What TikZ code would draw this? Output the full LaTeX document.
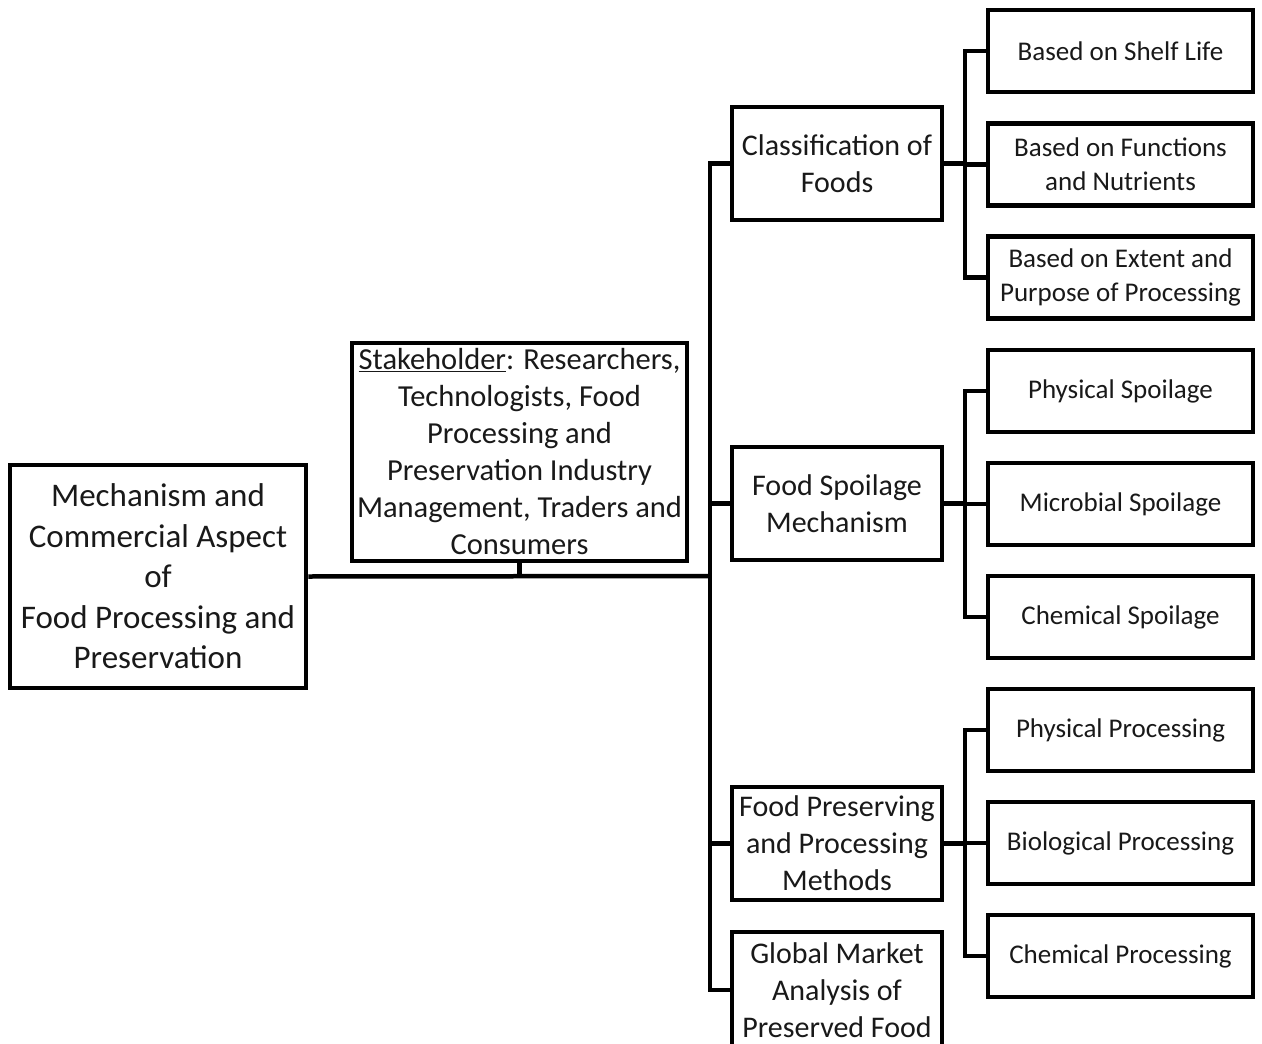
\documentclass[tikz,border=0pt]{standalone}
\usepackage{fontspec}
\setmainfont{Carlito}
\begin{document}
\begin{tikzpicture}[x=1pt,y=-1pt,
  box/.style={draw,line width=4.5pt,fill=white,align=center,inner sep=0pt,text=black!90},
  rootbox/.style={box,minimum width=296pt,minimum height=223pt,font=\fontsize{33}{40.5}\selectfont},
  stakebox/.style={box,minimum width=335pt,minimum height=218pt,font=\fontsize{30.5}{37}\selectfont},
  midbox/.style={box,minimum width=210pt,minimum height=113pt,font=\fontsize{30}{37}\selectfont},
  leafbox/.style={box,minimum width=265pt,minimum height=82pt,font=\fontsize{27}{34}\selectfont},
  link/.style={line width=4.5pt,line join=miter}]
\useasboundingbox (0,0) rectangle (1262,1044);
\clip (0,0) rectangle (1262,1044);
\fill[white] (0,0) rectangle (1262,1044);
\coordinate (tr) at (710,576);
\coordinate (sb) at (965,0);

\node[rootbox] (root) at (158,576.5) {Mechanism and\\Commercial Aspect\\of\\Food Processing and\\Preservation};
\node[stakebox] (stake) at (519.5,452) {\underline{Stakeholder}: Researchers,\\Technologists, Food\\Processing and\\Preservation Industry\\Management, Traders and\\Consumers};

\node[midbox] (cls) at (837,163.5) {Classification of\\Foods};
\node[midbox] (spo) at (837,503.5) {Food Spoilage\\Mechanism};
\node[midbox] (pre) at (837,843.5) {Food Preserving\\and Processing\\Methods};
\node[midbox,minimum height=116pt] (gm) at (837,990) {Global Market\\Analysis of\\Preserved Food};

\node[leafbox] (a1) at (1120.5,51) {Based on Shelf Life};
\node[leafbox] (a2) at (1120.5,164.5) {Based on Functions\\and Nutrients};
\node[leafbox] (a3) at (1120.5,277.5) {Based on Extent and\\Purpose of Processing};
\node[leafbox] (b1) at (1120.5,391) {Physical Spoilage};
\node[leafbox] (b2) at (1120.5,504) {Microbial Spoilage};
\node[leafbox] (b3) at (1120.5,617) {Chemical Spoilage};
\node[leafbox] (c1) at (1120.5,730) {Physical Processing};
\node[leafbox] (c2) at (1120.5,843) {Biological Processing};
\node[leafbox] (c3) at (1120.5,956) {Chemical Processing};

% trunk
\draw[link] (root.east) -- (tr);
\draw[link] (stake.south) -- (stake.south |- tr);
\draw[link] (cls.west) -- (cls.west -| tr) -- (gm.west -| tr) -- (gm.west);
\draw[link] (spo.west) -- (spo.west -| tr);
\draw[link] (pre.west) -- (pre.west -| tr);

% branches
\draw[link] (cls.east) -- (cls.east -| sb);
\draw[link] (a1.west) -- (a1.west -| sb) -- (a3.west -| sb) -- (a3.west);
\draw[link] (a2.west) -- (a2.west -| sb);
\draw[link] (spo.east) -- (spo.east -| sb);
\draw[link] (b1.west) -- (b1.west -| sb) -- (b3.west -| sb) -- (b3.west);
\draw[link] (b2.west) -- (b2.west -| sb);
\draw[link] (pre.east) -- (pre.east -| sb);
\draw[link] (c1.west) -- (c1.west -| sb) -- (c3.west -| sb) -- (c3.west);
\draw[link] (c2.west) -- (c2.west -| sb);
\end{tikzpicture}
\end{document}
